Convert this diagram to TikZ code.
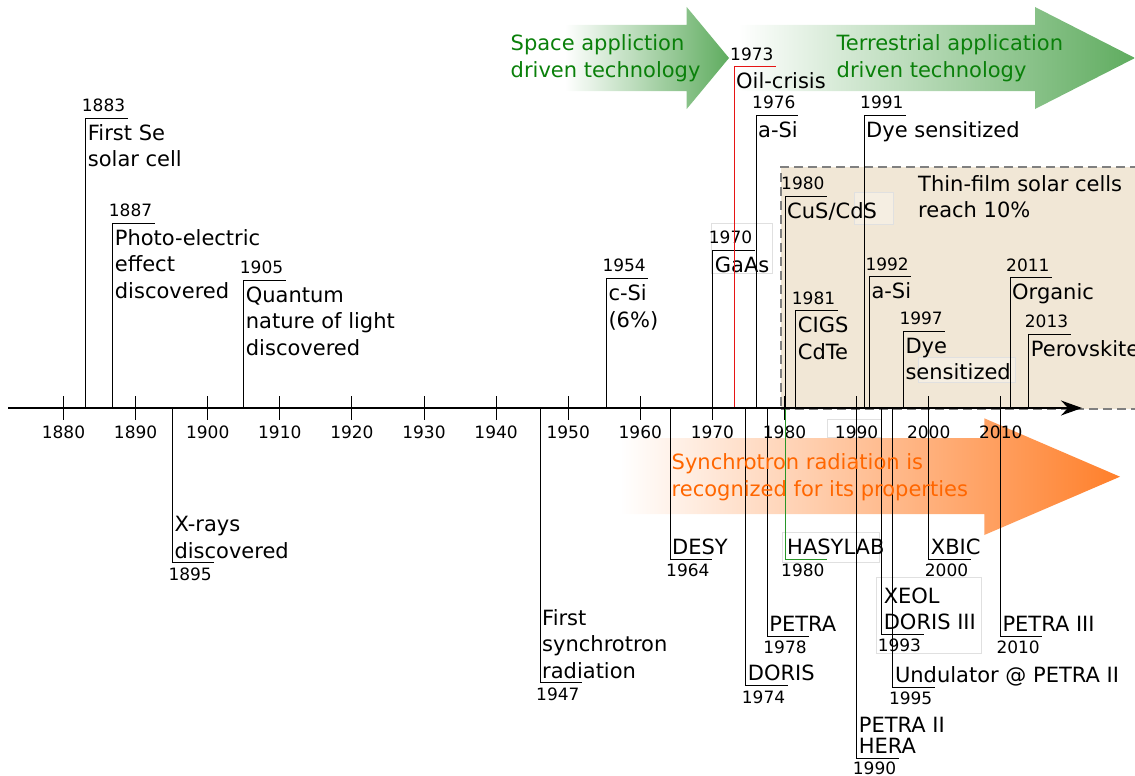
\documentclass[tikz,border=0pt]{standalone}
\usepackage{fontspec}
\setmainfont{DejaVu Sans}
\usetikzlibrary{arrows.meta}
\definecolor{tanbg}{RGB}{241,231,214}
\definecolor{garrow}{RGB}{95,172,95}
\definecolor{gtextc}{RGB}{10,128,10}
\definecolor{oarrow}{RGB}{255,127,42}
\definecolor{otextc}{RGB}{255,102,0}
\definecolor{hasy}{RGB}{40,150,40}
\definecolor{oilred}{RGB}{230,20,20}
\tikzset{
  evline/.style={line width=1pt},
  desc/.style={font=\fontsize{21}{26.5}\selectfont, inner sep=0pt, align=left},
  yearlbl/.style={font=\fontsize{17}{20}\selectfont, inner sep=0pt},
  faint/.style={draw=black!12, line width=0.6pt},
  gtext/.style={font=\fontsize{21}{27}\selectfont, text=gtextc, inner sep=0pt, align=left},
  otext/.style={font=\fontsize{21}{27}\selectfont, text=otextc, inner sep=0pt, align=left},
  tfbox/.style={draw=black!50, fill=tanbg, line width=1.5pt, dash pattern=on 9pt off 5pt,
    minimum width=380pt, minimum height=242pt, inner sep=0pt, anchor=north west},
}
% top event: [line colour]{name}{x}{y of cap}{year}{text}
\newcommand\topev[6][black]{%
  \coordinate (#2-a) at (#3,408);
  \coordinate (#2-t) at (#3,#4);
  \coordinate (#2-c) at (#3+42,#4);
  \draw[evline,#1] (#2-a) -- (#2-t) -- (#2-c);
  \node[yearlbl,anchor=base west] (#2-y) at (#3-4,#4-6.5) {#5};
  \node[desc,anchor=north west] (#2-d) at (#3+2,#4+5) {\rule{0pt}{17pt}#6};
}
% bottom event
\newcommand\botev[6][black]{%
  \coordinate (#2-a) at (#3,408);
  \coordinate (#2-t) at (#3,#4);
  \coordinate (#2-c) at (#3+42,#4);
  \draw[evline,#1] (#2-a) -- (#2-t) -- (#2-c);
  \node[yearlbl,anchor=base west] (#2-y) at (#3-4,#4+17.5) {#5};
  \node[desc,anchor=south west] (#2-d) at (#3+2,#4+1.5) {#6\rule[-6pt]{0pt}{6pt}};
}
\begin{document}
\begin{tikzpicture}[x=1pt,y=-1pt]
\useasboundingbox (0,0) rectangle (1135,776);
% green arrows
\shade[left color=white, right color=garrow]
  (565,25) -- (686.7,25) -- (686.7,7) -- (729,58) -- (686.7,109) -- (686.7,91) -- (565,91) -- cycle;
\shade[left color=white, right color=garrow]
  (738,25) -- (1035,25) -- (1035,7) -- (1135,58) -- (1035,109) -- (1035,91) -- (738,91) -- cycle;
% thin-film box
\node[tfbox] (tf) at (780,166) {};
% orange arrow
\shade[left color=white, right color=oarrow]
  (620,438) -- (984.3,438) -- (984.3,418.3) -- (1120,476.7) -- (984.3,535) -- (984.3,514) -- (620,514) -- cycle;
% faint text frames
\draw[faint, fill=white] (711.7,223) rectangle (772.3,273);
\draw[faint, fill=white, fill opacity=0.3] (854,192) rectangle (893,224);
\draw[faint, fill=white, fill opacity=0.3] (918,357) rectangle (1015,382);
\draw[faint] (782.7,532) rectangle (879,562);
\draw[faint] (876,577) rectangle (981,653);
\draw[faint] (827,419) rectangle (881,437);
% ticks and labels
\foreach \yr in {1880,1890,...,2010}{
  \pgfmathsetmacro\xx{63.5+(\yr-1880)*7.21}
  \coordinate (k\yr-t) at (\xx,396);
  \coordinate (k\yr-b) at (\xx,420);
  \draw[line width=1pt] (k\yr-t) -- (k\yr-b);
  \node[yearlbl, anchor=base] (l\yr) at (\xx,438.2) {\yr};
}
% top events
\topev{e1883}{85.7}{118}{1883}{First Se\\solar cell}
\topev{e1887}{112.7}{223}{1887}{Photo-electric\\effect\\discovered}
\topev{e1905}{243.7}{280}{1905}{Quantum\\nature of light\\discovered}
\topev{e1954}{606.3}{278.3}{1954}{c-Si\\(6\%)}
\topev{e1970}{712.7}{250}{1970}{GaAs}
\topev[oilred,line width=0.9pt]{e1973}{734}{66.7}{1973}{Oil-crisis}
\topev{e1976}{756}{115}{1976}{a-Si}
\topev{e1980}{785}{196}{1980}{CuS/CdS}
\topev{e1981}{795.7}{310.7}{1981}{CIGS\\CdTe}
\topev{e1991}{864}{115}{1991}{Dye sensitized}
\topev{e1992}{869.3}{276.7}{1992}{a-Si}
\topev{e1997}{903.3}{331}{1997}{Dye\\sensitized}
\topev{e2011}{1010}{277.7}{2011}{Organic}
\topev{e2013}{1028.7}{334}{2013}{Perovskite}
% bottom events
\botev{b1895}{172.3}{562.7}{1895}{X-rays\\discovered}
\botev{b1947}{540}{682.7}{1947}{First\\synchrotron\\radiation}
\botev{b1964}{670}{559.2}{1964}{DESY}
\botev{b1974}{745.7}{685.5}{1974}{DORIS}
\botev{b1978}{767.2}{636}{1978}{PETRA}
\botev[hasy,line width=0.9pt]{b1980}{785}{559.2}{1980}{HASYLAB}
\botev{b1993}{881.6}{634.3}{1993}{XEOL\\DORIS III}
\botev{b1995}{892.8}{687.2}{1995}{Undulator @ PETRA II}
\botev{b2000}{928.7}{559.2}{2000}{XBIC}
\botev{b2010}{1000.3}{636}{2010}{PETRA III}
\coordinate (b1990-a) at (856.7,408);
\coordinate (b1990-t) at (856.7,758);
\coordinate (b1990-c) at (898.7,758);
\draw[evline] (b1990-a) -- (b1990-t) -- (b1990-c);
\node[yearlbl, anchor=base west] (b1990-y) at (852.7,774) {1990};
\node[desc, font=\fontsize{21}{20.5}\selectfont, anchor=south west] (b1990-d) at (858.7,759.5) {PETRA II\\HERA\rule[-6pt]{0pt}{6pt}};
% axis
\coordinate (ax0) at (8,408);
\coordinate (ax1) at (1082,408);
\draw[line width=1.3pt, -{Stealth[length=21pt,width=15pt,inset=7pt]}] (ax0) -- (ax1);
% captions
\node[gtext, anchor=north west] (space) at (510.5,33.6) {\rule{0pt}{17pt}Space appliction\\driven technology};
\node[gtext, anchor=north west] (terr) at (836.5,33.6) {\rule{0pt}{17pt}Terrestrial application\\driven technology};
\node[desc, font=\fontsize{21}{26}\selectfont, anchor=north west] (tftext) at (918,174.6) {\rule{0pt}{17pt}Thin-film solar cells\\reach 10\%};
\node[otext, anchor=north west] (sync) at (671.5,452.3) {\rule{0pt}{17pt}Synchrotron radiation is\\recognized for its properties};
\end{tikzpicture}
\end{document}
